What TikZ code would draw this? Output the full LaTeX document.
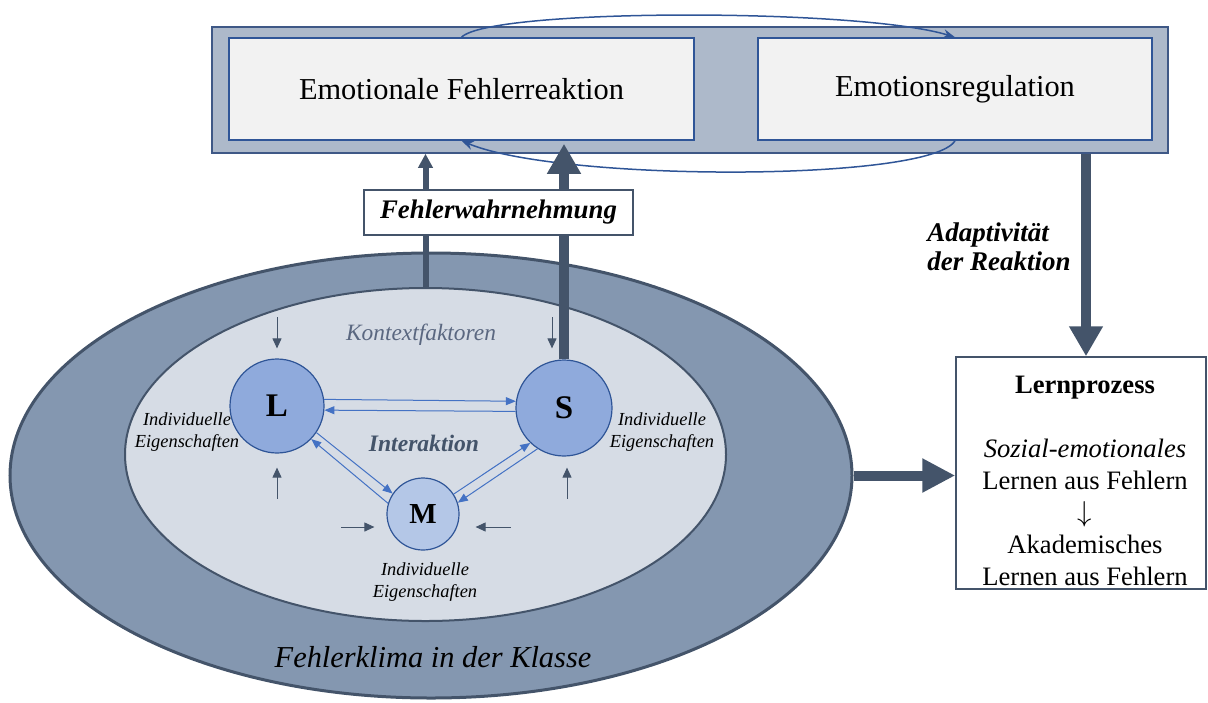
\documentclass[tikz,border=0pt]{standalone}
\usepackage{fontspec}
\setmainfont{Liberation Serif}
\usetikzlibrary{arrows.meta,shapes.geometric,calc}
\definecolor{bandfill}{HTML}{ADB9CA}
\definecolor{bandline}{HTML}{3F5886}
\definecolor{boxfill}{HTML}{F2F2F2}
\definecolor{boxline}{HTML}{2F5597}
\definecolor{klimafill}{HTML}{8497B0}
\definecolor{klimaline}{HTML}{44546A}
\definecolor{kontextfill}{HTML}{D6DCE5}
\definecolor{personfill}{HTML}{8FAADC}
\definecolor{mfill}{HTML}{B4C7E7}
\definecolor{darkarrow}{HTML}{44546A}
\definecolor{interblue}{HTML}{4472C4}
\definecolor{kontextgray}{HTML}{5A6780}

\begin{document}
\begin{tikzpicture}[x=0.5pt,y=-0.5pt,
	box/.style={draw=boxline,fill=boxfill,line width=0.75pt,minimum height=51pt,inner sep=0pt,font=\fontsize{15.2}{18}\selectfont},
	person/.style={circle,draw=boxline,fill=personfill,line width=0.6pt,inner sep=0pt,font=\fontsize{16.5}{18}\selectfont\bfseries},
	eigen/.style={font=\fontsize{9.2}{11}\selectfont\itshape,align=center},
	ctxarrow/.style={draw=darkarrow,line width=0.5pt,-{Triangle[length=5pt,width=4.5pt]}},
	inter/.style={draw=interblue,line width=0.5pt,-{Triangle[length=5pt,width=4pt]}},
	regloop/.style={draw=boxline,line width=0.75pt,-{Stealth[length=6pt,width=4.5pt]}},
	bigarrow/.style={draw=darkarrow,line width=5pt,-{Triangle[length=15pt,width=16pt]}},
	]
		\useasboundingbox (0,0) rectangle (1208,702);
		% Reaktion oben
		\node [draw=bandline,fill=bandfill,line width=0.75pt,minimum width=478pt,minimum height=63pt] (band) at (690,90) {};
		\node [box,minimum width=232.5pt] (emo) at (461.5,89) {Emotionale Fehlerreaktion};
		\node [box,minimum width=197pt] (reg) at (955,89) {Emotionsregulation};
		\draw [regloop] (emo.north) .. controls (490,8) and (860,8) .. (reg.north);
		\draw [regloop] (reg.south) .. controls (930,182) and (560,182) .. (emo.south);
		% Fehlerklima
		\node [ellipse,draw=klimaline,fill=klimafill,line width=1.5pt,minimum width=421pt,minimum height=222.5pt,inner sep=0pt] (klima) at (431,475.5) {};
		\node [ellipse,draw=klimaline,fill=kontextfill,line width=1pt,minimum width=300.5pt,minimum height=166.5pt,inner sep=0pt] (kontext) at (425.5,454.5) {};
		\node [font=\fontsize{15.2}{18}\selectfont\itshape] (klimatext) at (433,657) {Fehlerklima in der Klasse};
		\node [font=\fontsize{11.7}{14}\selectfont\itshape,text=kontextgray] (kontexttext) at (421,335) {Kontextfaktoren};
		\node [font=\fontsize{11.8}{14}\selectfont\bfseries\itshape,text=klimaline] (intertext) at (424,443) {Interaktion};
		% L, S, M
		\node [person,minimum size=47pt] (L) at (277,406) {L};
		\node [person,minimum size=48pt] (S) at (564,408) {S};
		\node [person,fill=mfill,minimum size=36pt,font=\fontsize{14.5}{16}\selectfont\bfseries] (M) at (423,514) {M};
		\node [eigen] (eigenL) at (187,432) {Individuelle\\Eigenschaften};
		\node [eigen] (eigenS) at (662,432) {Individuelle\\Eigenschaften};
		\node [eigen] (eigenM) at (425,582) {Individuelle\\Eigenschaften};
		\draw [inter] (L.8) to (S.172);
		\draw [inter] (S.184) to (L.-5);
		\draw [inter] (L.-34) to (M.146);
		\draw [inter] (M.163) to (L.-44);
		\draw [inter] (M.33) to (S.226);
		\draw [inter] (S.237) to (M.18);
		\draw [ctxarrow] ([yshift=20.5pt]L.north) to ([yshift=5pt]L.north);
		\draw [ctxarrow] ([yshift=-22.5pt]L.south) to ([yshift=-7pt]L.south);
		\draw [ctxarrow] ([xshift=-6pt,yshift=21pt]S.north) to ([xshift=-6pt,yshift=5.5pt]S.north);
		\draw [ctxarrow] ([xshift=1.5pt,yshift=-21pt]S.south) to ([xshift=1.5pt,yshift=-5.5pt]S.south);
		\draw [ctxarrow] ([xshift=-22.5pt,yshift=-6.5pt]M.west) to ([xshift=-6pt,yshift=-6.5pt]M.west);
		\draw [ctxarrow] ([xshift=25.5pt,yshift=-6.5pt]M.east) to ([xshift=8pt,yshift=-6.5pt]M.east);
		% Lernprozess
		\node [draw=klimaline,fill=white,line width=0.75pt,minimum width=125pt,minimum height=116pt] (lern) at (1081,473) {};
		\node [font=\fontsize{13.3}{16}\selectfont,align=center] (lerntext) at (1085,481) {\textbf{Lernprozess}\\[16pt]\textit{Sozial-emotionales}\\Lernen aus Fehlern\\$\downarrow$\\Akademisches\\Lernen aus Fehlern};
		\coordinate (adapt) at ($(lern.north)+(5,0)$);
		% Pfeile
		\draw [draw=darkarrow,line width=3pt,-{Triangle[length=7pt,width=7pt]}] (kontext.north) to (kontext.north |- band.south);
		\draw [bigarrow] (S.north) to ($(S.north |- emo.south)+(0,3)$);
		\draw [bigarrow] (adapt |- band.south) to (adapt);
		\draw [bigarrow,-{Triangle[length=16.5pt,width=16pt]}] (klima.east) to (klima.east -| lern.west);
		\node [font=\fontsize{13.5}{14.5}\selectfont\bfseries\itshape,align=left] (adapttext) at (999,247) {Adaptivität\\der Reaktion};
		\node [draw=klimaline,fill=white,line width=0.6pt,minimum width=134.5pt,minimum height=22.5pt,font=\fontsize{13.4}{16}\selectfont\bfseries\itshape] (wahr) at (498.5,212.5) {Fehlerwahrnehmung};
\end{tikzpicture}
\end{document}
